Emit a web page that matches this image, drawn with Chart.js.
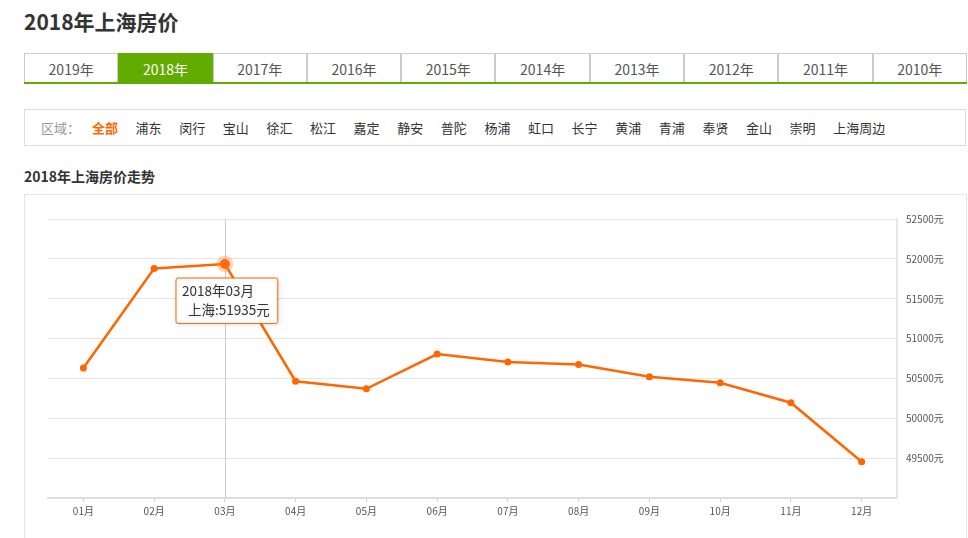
<!DOCTYPE html>
<html>
<head>
<meta charset="utf-8">
<script src="https://cdn.jsdelivr.net/npm/chart.js@4.4.1/dist/chart.umd.min.js"></script>
<style>
  html, body { margin:0; padding:0; background:#fff; }
  body { width:968px; height:538px; position:relative; overflow:hidden;
         font-family:"Microsoft YaHei","Noto Sans CJK SC","Noto Sans",sans-serif; color:#333; }
  #title { position:absolute; left:24px; top:4px; font-size:21px; font-weight:bold; color:#333; line-height:34px; }
  #tabs { position:absolute; left:24px; top:53px; width:943px; height:29px; display:flex;
          border-bottom:2px solid #62ab00; }
  #tabs div { flex:1; box-sizing:border-box; border:1px solid #ccc; border-bottom:none; text-align:center;
              font-size:14px; color:#555; line-height:30px; }
  #tabs div.on { background:#62ab00; color:#fff; border-color:#62ab00; }
  #area { position:absolute; left:24px; top:109px; width:940px; height:35px; border:1px solid #ddd; }
  #area span { position:absolute; top:0; line-height:35px; font-size:13px; color:#333; white-space:nowrap; }
  #sub { position:absolute; left:24px; top:165px; font-size:14px; font-weight:bold; color:#333; line-height:22px; }
  #box { position:absolute; left:24px; top:194px; width:941px; height:360px; border:1px solid #e5e5e5; }
  #c { position:absolute; left:0; top:0; }
</style>
</head>
<body>
<div id="title">2018年上海房价</div>
<div id="tabs"></div>
<div id="area"></div>
<div id="sub">2018年上海房价走势</div>
<div id="box"><canvas id="c" width="942" height="343"></canvas></div>
<script>
const years = ["2019年","2018年","2017年","2016年","2015年","2014年","2013年","2012年","2011年","2010年"];
const activeYear = "2018年";
const districts = ["全部","浦东","闵行","宝山","徐汇","松江","嘉定","静安","普陀","杨浦","虹口","长宁","黄浦","青浦","奉贤","金山","崇明","上海周边"];
const months = ["01月","02月","03月","04月","05月","06月","07月","08月","09月","10月","11月","12月"];
const prices = [50630, 51880, 51935, 50465, 50370, 50805, 50705, 50675, 50520, 50445, 50195, 49455];
const seriesName = "上海";
const yearLabel = "2018年";
const activeIndex = 2;

// tabs
const tabs = document.getElementById('tabs');
years.forEach(y => { const d = document.createElement('div'); d.textContent = y; if (y === activeYear) d.className = 'on'; tabs.appendChild(d); });
// districts
const area = document.getElementById('area');
const lab = document.createElement('span'); lab.textContent = '区域：'; lab.style.left = '16px'; lab.style.color = '#999'; area.appendChild(lab);
districts.forEach((t, i) => {
  const s = document.createElement('span'); s.textContent = t;
  s.style.left = (67 + i * 43.6) + 'px';
  if (i === 0) { s.style.color = '#ff6600'; s.style.fontWeight = 'bold'; }
  area.appendChild(s);
});

const ORANGE = '#ff6600';
const crosshair = {
  id: 'crosshair',
  beforeDatasetsDraw(chart) {
    const act = chart.getActiveElements();
    if (!act.length) return;
    const x = act[0].element.x, a = chart.chartArea, ctx = chart.ctx;
    ctx.save(); ctx.strokeStyle = '#cccccc'; ctx.lineWidth = 1;
    ctx.beginPath(); ctx.moveTo(Math.round(x) + 0.5, a.top); ctx.lineTo(Math.round(x) + 0.5, a.bottom); ctx.stroke();
    ctx.restore();
  },
  beforeTooltipDraw(chart) { const ctx = chart.ctx; ctx.save(); ctx.shadowColor = 'rgba(0,0,0,0.12)'; ctx.shadowBlur = 4; ctx.shadowOffsetX = 1; ctx.shadowOffsetY = 1; },
  afterTooltipDraw(chart) { chart.ctx.restore(); }
};
Chart.Tooltip.positioners.below = function(items) {
  if (!items.length) return false;
  const el = items[0].element;
  return { x: el.x + 2, y: el.y + 14 };
};

const FONT = '"Microsoft YaHei","Noto Sans CJK SC",sans-serif';
const chart = new Chart(document.getElementById('c'), {
  type: 'line',
  data: { labels: months, datasets: [{
    label: seriesName, data: prices, borderColor: ORANGE, backgroundColor: ORANGE,
    borderWidth: 2.5, tension: 0, pointRadius: 3.5, pointBorderWidth: 0,
    pointHoverRadius: 5, pointHoverBackgroundColor: ORANGE,
    pointHoverBorderColor: 'rgba(255,120,40,0.3)', pointHoverBorderWidth: 7
  }]},
  plugins: [crosshair],
  options: {
    responsive: false, animation: false, events: [],
    layout: { padding: { left: 23, top: 24, right: 0, bottom: 0 } },
    plugins: {
      legend: { display: false },
      tooltip: {
        enabled: true, position: 'below', xAlign: 'center', yAlign: 'top',
        caretSize: 0, caretPadding: 0, displayColors: false,
        backgroundColor: '#ffffff', borderColor: ORANGE, borderWidth: 1, cornerRadius: 2,
        titleColor: '#333', bodyColor: '#333',
        titleFont: { family: FONT, size: 13.5, weight: 'normal' },
        bodyFont: { family: FONT, size: 13.5 },
        titleMarginBottom: 3,
        padding: { left: 6, right: 8, top: 5, bottom: 5 },
        callbacks: {
          title: (items) => yearLabel + items[0].label,
          label: (item) => '  ' + seriesName + ':' + item.raw + '元'
        }
      }
    },
    scales: {
      x: {
        offset: true,
        grid: { display: true, drawOnChartArea: false, drawTicks: true, tickLength: 4, color: '#d0d0d0' },
        border: { display: true, color: '#dddddd', width: 2 },
        ticks: { color: '#555', font: { family: FONT, size: 10 }, padding: 3, maxRotation: 0 },
        afterFit(s) { s.height = 40; }
      },
      y: {
        position: 'right', min: 49000, max: 52500,
        grid: { color: '#e6e6e6', drawTicks: false, lineWidth: 1 },
        border: { display: true, color: '#e6e6e6', width: 2 },
        ticks: { stepSize: 500, padding: 9, color: '#555',
          font: { family: FONT, size: 10 },
          callback: (v) => v === 49000 ? '' : v + '元' },
        afterFit(s) { s.width = 70; }
      }
    }
  }
});
const act = [{ datasetIndex: 0, index: activeIndex }];
chart.setActiveElements(act);
const m = chart.getDatasetMeta(0).data[activeIndex];
chart.tooltip.setActiveElements(act, { x: m.x, y: m.y });
chart.update();
</script>
</body>
</html>
